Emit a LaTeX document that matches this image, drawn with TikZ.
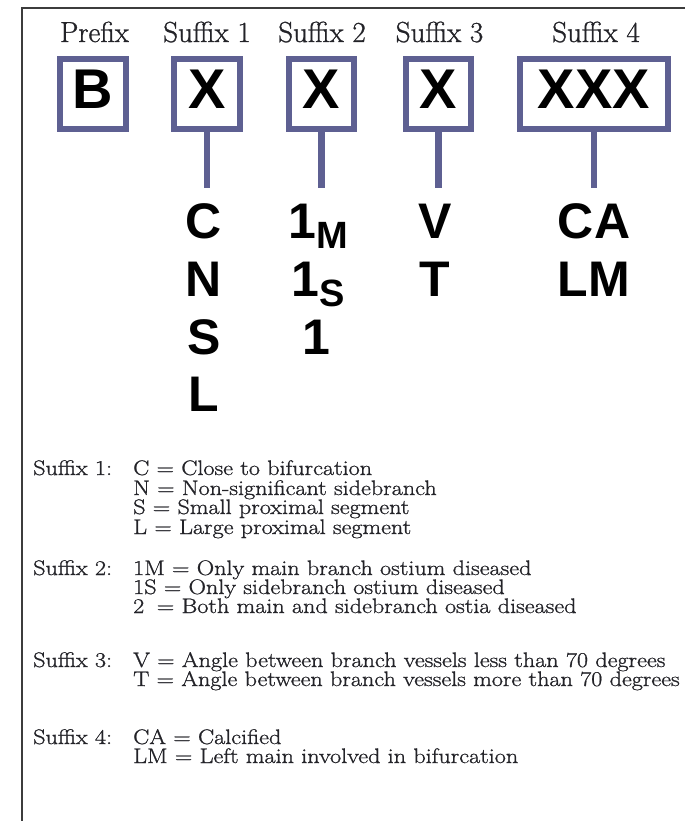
\documentclass[tikz,border=0pt]{standalone}
\usepackage{fontspec}
\newfontfamily\hv{Liberation Sans}
\newfontfamily\txt{Latin Modern Roman}[FakeBold=1]
\newfontfamily\legtxt{Latin Modern Roman}[FakeBold=1,FakeStretch=1.15]
\definecolor{boxc}{RGB}{94,96,146}
\definecolor{framec}{RGB}{60,60,60}
\definecolor{textc}{RGB}{35,35,40}
\begin{document}
\begin{tikzpicture}[x=1pt,y=-1pt,
  lab/.style={font=\txt\fontsize{29}{29}\selectfont, text=textc, anchor=base, inner sep=0},
  codebox/.style={draw=boxc, line width=6pt, minimum height=70pt, inner sep=0, text depth=10pt,
    font=\hv\bfseries\fontsize{56}{56}\selectfont},
  big/.style={font=\hv\bfseries\fontsize{50}{50}\selectfont, anchor=base, inner sep=0},
  leg/.style={font=\legtxt\fontsize{21}{21}\selectfont, text=textc, anchor=base west, inner sep=0},
  conn/.style={draw=boxc, line width=6.5pt},
  frame/.style={draw=framec, line width=1.5pt}]
\useasboundingbox (0,0) rectangle (685,821);
\fill[white] (0,0) rectangle (685,821);
\draw[frame] (22,821) -- (22,8) -- (685,8);

% header labels
\node[lab] (l0) at (94.5,42) {Prefix};
\node[lab] (l1) at (207,42) {Suffix 1};
\node[lab] (l2) at (322,42) {Suffix 2};
\node[lab] (l3) at (439.5,42) {Suffix 3};
\node[lab] (l4) at (596,42) {Suffix 4};

% boxes
\node[codebox, minimum width=66pt] (b0) at (93,94) {B};
\node[codebox, minimum width=66pt] (b1) at (207,94) {X};
\node[codebox, minimum width=65pt] (b2) at (321.5,94) {X};
\node[codebox, minimum width=65pt] (b3) at (438.5,94) {X};
\node[codebox, minimum width=148pt] (b4) at (594,94) {XXX};

% connector ends
\coordinate (k1) at (207,188);
\coordinate (k2) at (321.5,188);
\coordinate (k3) at (438.5,188);
\coordinate (k4) at (594,188);
\draw[conn] (b1.south) -- (k1);
\draw[conn] (b2.south) -- (k2);
\draw[conn] (b3.south) -- (k3);
\draw[conn] (b4.south) -- (k4);

% code letters
\node[big] (c1a) at (204,238) {C};
\node[big] (c1b) at (204,296) {N};
\node[big] (c1c) at (204,354) {S};
\node[big] (c1d) at (204,411) {L};
\node[big] (c2a) at (318,238) {1\raisebox{-10pt}{\fontsize{38}{38}\selectfont M}};
\node[big] (c2b) at (318,296) {1\raisebox{-10pt}{\fontsize{38}{38}\selectfont S}};
\node[big] (c2c) at (316,354) {1};
\node[big] (c3a) at (435,238) {V};
\node[big] (c3b) at (435,296) {T};
\node[big] (c4a) at (594,238) {CA};
\node[big] (c4b) at (594,296) {LM};

% legend
\node[leg] (g1) at (33,475) {Suffix 1:};
\node[leg] (g1a) at (133,475) {C = Close to bifurcation};
\node[leg] (g1b) at (133,495) {N = Non-significant sidebranch};
\node[leg] (g1c) at (133,514) {S = Small proximal segment};
\node[leg] (g1d) at (133,534) {L = Large proximal segment};

\node[leg] (g2) at (33,575) {Suffix 2:};
\node[leg] (g2a) at (133,575) {1M = Only main branch ostium diseased};
\node[leg] (g2b) at (133,594) {1S = Only sidebranch ostium diseased};
\node[leg] (g2c) at (133,613) {2\hspace{0.6em}= Both main and sidebranch ostia diseased};

\node[leg] (g3) at (33,667) {Suffix 3:};
\node[leg] (g3a) at (133,667) {V = Angle between branch vessels less than 70 degrees};
\node[leg] (g3b) at (133,686) {T = Angle between branch vessels more than 70 degrees};

\node[leg] (g4) at (33,744) {Suffix 4:};
\node[leg] (g4a) at (133,744) {CA = Calcified};
\node[leg] (g4b) at (133,763) {LM = Left main involved in bifurcation};
\end{tikzpicture}
\end{document}
